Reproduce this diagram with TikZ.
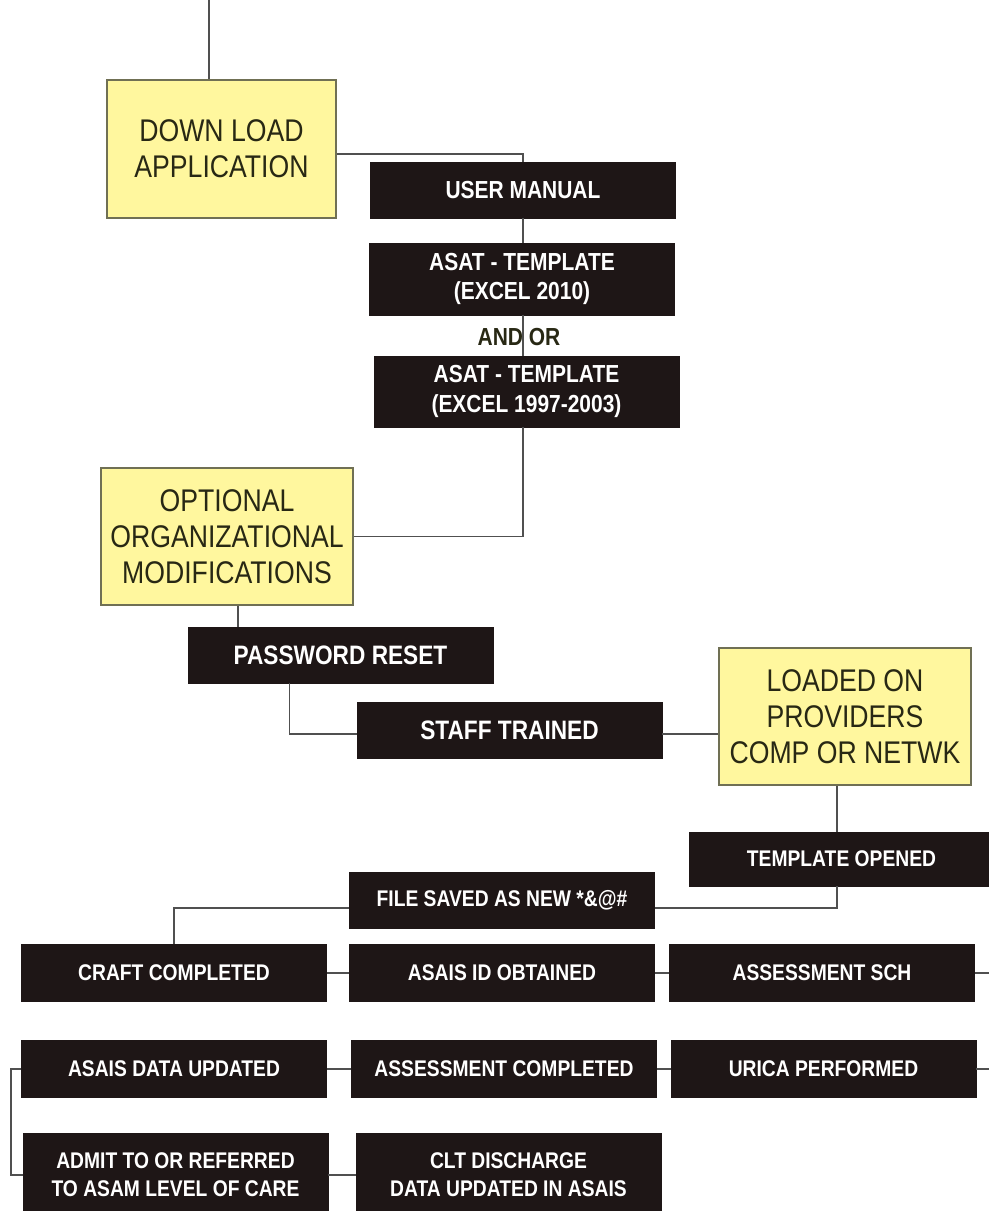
\documentclass[tikz,border=0pt]{standalone}
\usepackage{fontspec}
\setmainfont{Liberation Sans}[FakeStretch=0.85]
\usetikzlibrary{calc}

\definecolor{boxyellow}{RGB}{255,247,158}
\definecolor{boxedge}{RGB}{112,112,84}
\definecolor{boxdark}{RGB}{30,22,22}
\definecolor{linkgray}{RGB}{80,80,80}
\definecolor{yellowtext}{RGB}{40,40,20}

\tikzset{
    yellowbox/.style={draw=boxedge, line width=1.5pt, fill=boxyellow, text=yellowtext, inner sep=0pt, align=center, minimum width=189pt, minimum height=102.75pt, font=\fontsize{23.5}{27}\selectfont},
    darkbox/.style={draw=boxdark, fill=boxdark, text=white, inner sep=0pt, align=center, minimum width=229pt, minimum height=43pt, font=\bfseries\fontsize{17}{21}\selectfont},
    link/.style={draw=linkgray, line width=1.3pt}
}

\begin{document}
\begin{tikzpicture}[x=0.75pt,y=0.75pt,yscale=-1,xscale=1]
    \useasboundingbox (0,0) rectangle (989,1211);

%Shape: Rectangle [yellow boxes]
    \node [yellowbox, minimum width=171.75pt, minimum height=103.5pt] (dl) at (221.5,149) {DOWN LOAD\\APPLICATION};
    \node [yellowbox] (opt) at (227,536.5) {OPTIONAL\\ORGANIZATIONAL\\MODIFICATIONS};
    \node [yellowbox] (ld) at (845,716.5) {LOADED ON\\PROVIDERS\\COMP OR NETWK};

%Shape: Rectangle [dark boxes, top]
    \node [darkbox, minimum height=42pt, font=\bfseries\fontsize{18.5}{22}\selectfont] (um) at (523,190) {USER MANUAL};
    \node [darkbox, minimum height=54pt, font=\bfseries\fontsize{18.5}{22}\selectfont] (at1) at (522,279) {ASAT - TEMPLATE\\(EXCEL 2010)};
    \node [darkbox, minimum height=53.25pt, font=\bfseries\fontsize{18.5}{22}\selectfont] (at2) at (526.5,391.5) {ASAT - TEMPLATE\\(EXCEL 1997-2003)};
    \node [darkbox, minimum height=42pt, font=\bfseries\fontsize{20}{24}\selectfont] (pw) at (340.5,655) {PASSWORD RESET};
    \node [darkbox, minimum height=42pt, font=\bfseries\fontsize{20}{24}\selectfont] (st) at (509.5,730) {STAFF TRAINED};

% Text Node
    \node [text=yellowtext, inner sep=0.75pt, font=\bfseries\fontsize{18.5}{22}\selectfont] (andor) at (519,337) {AND OR};

%Shape: Rectangle [dark boxes, bottom]
    \node [darkbox, minimum height=40.5pt] (to) at (841.5,859) {TEMPLATE OPENED};
    \node [darkbox, minimum height=42pt] (fs) at (502,900) {FILE SAVED AS NEW *\&@\#};
    \node [darkbox] (cc) at (174,973) {CRAFT COMPLETED};
    \node [darkbox] (ai) at (502,973) {ASAIS ID OBTAINED};
    \node [darkbox] (as) at (822,973) {ASSESSMENT SCH};
    \node [darkbox] (ad) at (174,1069) {ASAIS DATA UPDATED};
    \node [darkbox] (ac) at (504,1069) {ASSESSMENT COMPLETED};
    \node [darkbox] (ur) at (823.5,1069) {URICA PERFORMED};
    \node [darkbox, minimum height=63pt] (am) at (175.5,1175) {ADMIT TO OR REFERRED\\TO ASAM LEVEL OF CARE};
    \node [darkbox, minimum height=63pt] (cd) at (508.5,1175) {CLT DISCHARGE\\DATA UPDATED IN ASAIS};

% Free ends
    \coordinate (top) at (209,0);
    \coordinate (edge1) at (989,973);
    \coordinate (edge2) at (989,1069);
    \coordinate (l1) at ($(ld.south)+(-8,0)$);
    \coordinate (p1) at ($(opt.south)+(11,0)$);
    \coordinate (p2) at ($(pw.south west)+(102,0)$);
    \coordinate (f1) at ($(fs.east)+(0,8)$);
    \coordinate (f2) at ($(fs.west)+(0,8)$);

%Straight Lines
    \draw [link] (top) -- (top |- dl.north);
    \draw [link] ([yshift=3.75pt]dl.east) -| (um.north);
    \draw [link] (um.south) -- (um.south |- at1.north);
    \draw [link] (um.south |- at1.south) -- (um.south |- at2.north);
    \draw [link] (um.south |- at2.south) |- (opt.east);
    \draw [link] (p1) -- (p1 |- pw.north);
    \draw [link] (p2) |- ([yshift=3pt]st.west);
    \draw [link] ([yshift=3pt]st.east) -- ([yshift=3pt]st.east -| ld.west);
    \draw [link] (l1) -- (l1 |- to.north);
    \draw [link] (l1 |- to.south) |- (f1);
    \draw [link] (f2) -| (cc.north);
    \draw [link] (cc.east) -- (ai.west);
    \draw [link] (ai.east) -- (as.west);
    \draw [link] (as.east) -- (edge1);
    \draw [link] (ad.east) -- (ac.west);
    \draw [link] (ac.east) -- (ur.west);
    \draw [link] (ur.east) -- (edge2);
    \draw [link] (ad.west) -- ++(-10,0) |- (am.west);
    \draw [link] (am.east) -- (cd.west);

\end{tikzpicture}
\end{document}
